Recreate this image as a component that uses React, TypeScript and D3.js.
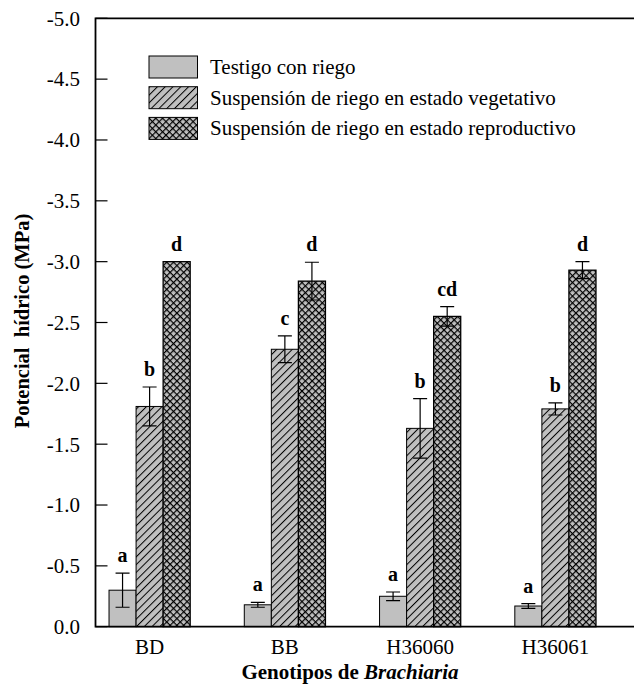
import * as d3 from "d3";
import React, { useEffect, useRef } from "react";

// genotypes on the x axis
const categories = ["BD", "BB", "H36060", "H36061"];

// treatments (legend order)
const seriesNames = [
  "Testigo con riego",
  "Suspensión de riego en estado vegetativo",
  "Suspensión de riego en estado reproductivo",
];

// water potential (MPa) per genotype
const testigo = [-0.3, -0.18, -0.25, -0.17];
const vegetativo = [-1.81, -2.28, -1.63, -1.79];
const reproductivo = [-3.0, -2.84, -2.55, -2.93];

// standard errors
const testigoErr = [0.14, 0.02, 0.035, 0.02];
const vegetativoErr = [0.16, 0.11, 0.245, 0.05];
const reproductivoErr = [0, 0.155, 0.08, 0.07];

// significance letters
const testigoLetters = ["a", "a", "a", "a"];
const vegetativoLetters = ["b", "c", "b", "b"];
const reproductivoLetters = ["d", "d", "cd", "d"];

const yTicks = [0, -0.5, -1.0, -1.5, -2.0, -2.5, -3.0, -3.5, -4.0, -4.5, -5.0];

const App: React.FC = () => {
  const ref = useRef<SVGSVGElement>(null);

  useEffect(() => {
    if (!ref.current) return;
    const svg = d3.select(ref.current);
    svg.selectAll("*").remove();

    const width = 634,
      height = 685;
    const left = 95.5,
      top = 18.3,
      bottom = 626.7;
    const font = "'Liberation Serif', 'Times New Roman', serif";
    const gray = "#c0c0c0";

    const values = [testigo, vegetativo, reproductivo];
    const errs = [testigoErr, vegetativoErr, reproductivoErr];
    const letters = [testigoLetters, vegetativoLetters, reproductivoLetters];

    // hyphen minus like the original
    const fmt = d3
      .formatLocale({
        decimal: ".",
        thousands: ",",
        grouping: [3],
        currency: ["", ""],
        minus: "-",
      })
      .format(".1f");

    const x0 = d3
      .scaleBand<string>()
      .domain(categories)
      .range([left, 609.5])
      .paddingInner(0.4)
      .paddingOuter(0.1);
    const x1 = d3
      .scaleBand<string>()
      .domain(seriesNames)
      .range([0, x0.bandwidth()]);
    const y = d3.scaleLinear().domain([0, -5]).range([bottom, top]);

    // patterns
    const defs = svg.append("defs");
    const hatch = defs
      .append("pattern")
      .attr("id", "hatch")
      .attr("patternUnits", "userSpaceOnUse")
      .attr("width", 5.5)
      .attr("height", 5.5)
      .attr("patternTransform", "rotate(45)");
    hatch.append("rect").attr("width", 5.5).attr("height", 5.5).attr("fill", gray);
    hatch
      .append("line")
      .attr("x1", 0.5)
      .attr("x2", 0.5)
      .attr("y1", 0)
      .attr("y2", 5.5)
      .attr("stroke", "#000")
      .attr("stroke-width", 1);

    const cross = defs
      .append("pattern")
      .attr("id", "cross")
      .attr("patternUnits", "userSpaceOnUse")
      .attr("width", 4.8)
      .attr("height", 4.8)
      .attr("patternTransform", "rotate(45)");
    cross.append("rect").attr("width", 4.8).attr("height", 4.8).attr("fill", gray);
    cross
      .append("path")
      .attr("d", "M0.6,0V4.8M0,0.6H4.8")
      .attr("stroke", "#000")
      .attr("stroke-width", 1.2);

    const fills = [gray, "url(#hatch)", "url(#cross)"];

    // bars
    const groups = svg
      .append("g")
      .selectAll("g")
      .data(categories)
      .join("g")
      .attr("transform", (d) => `translate(${x0(d)},0)`);

    seriesNames.forEach((s, si) => {
      groups
        .append("rect")
        .attr("x", x1(s)!)
        .attr("width", x1.bandwidth())
        .attr("y", (_, i) => y(values[si][i]))
        .attr("height", (_, i) => bottom - y(values[si][i]))
        .attr("fill", fills[si])
        .attr("stroke", "#000")
        .attr("stroke-width", si === 2 ? 1.3 : 1);
    });

    // error bars and letters
    seriesNames.forEach((s, si) => {
      const cx = x1(s)! + x1.bandwidth() / 2;
      groups.each(function (_, i) {
        const g = d3.select(this);
        const v = values[si][i];
        const e = errs[si][i];
        if (e > 0) {
          const yt = y(v - e),
            yb = y(v + e);
          g.append("path")
            .attr("d", `M${cx},${yt}V${yb}M${cx - 7},${yt}H${cx + 7}M${cx - 7},${yb}H${cx + 7}`)
            .attr("stroke", "#000")
            .attr("stroke-width", 1.2)
            .attr("fill", "none");
        }
        g.append("text")
          .attr("x", cx)
          .attr("y", y(v - e) - 11)
          .attr("text-anchor", "middle")
          .attr("font-family", font)
          .attr("font-weight", "bold")
          .attr("font-size", 20)
          .text(letters[si][i]);
      });
    });

    // axes lines
    svg
      .append("path")
      .attr("d", `M${width},${top}H${left}V${bottom}H${width}`)
      .attr("fill", "none")
      .attr("stroke", "#000")
      .attr("stroke-width", 1.8);

    // y ticks (inward)
    const yt = svg.append("g");
    yt.selectAll("line")
      .data(yTicks)
      .join("line")
      .attr("x1", left)
      .attr("x2", left + 12)
      .attr("y1", (d) => y(d))
      .attr("y2", (d) => y(d))
      .attr("stroke", "#000")
      .attr("stroke-width", 1.2);
    yt.selectAll("text")
      .data(yTicks)
      .join("text")
      .attr("x", 80)
      .attr("y", (d) => y(d))
      .attr("dy", "0.35em")
      .attr("text-anchor", "end")
      .attr("font-family", font)
      .attr("font-size", 21)
      .text((d) => fmt(d));

    // x category labels
    svg
      .append("g")
      .selectAll("text")
      .data(categories)
      .join("text")
      .attr("x", (d) => x0(d)! + x0.bandwidth() / 2)
      .attr("y", 654)
      .attr("text-anchor", "middle")
      .attr("font-family", font)
      .attr("font-size", 21)
      .text((d) => d);

    // axis titles
    const xt = svg
      .append("text")
      .attr("x", 350)
      .attr("y", 679)
      .attr("text-anchor", "middle")
      .attr("font-family", font)
      .attr("font-weight", "bold")
      .attr("font-size", 21);
    xt.append("tspan").text("Genotipos de ");
    xt.append("tspan").attr("font-style", "italic").text("Brachiaria");

    svg
      .append("text")
      .attr("transform", `translate(28.5,321) rotate(-90)`)
      .attr("text-anchor", "middle")
      .attr("font-family", font)
      .attr("font-weight", "bold")
      .attr("font-size", 20.5)
      .attr("xml:space", "preserve")
      .text("Potencial  hídrico (MPa)");

    // legend
    const legend = svg
      .append("g")
      .selectAll("g")
      .data(seriesNames)
      .join("g")
      .attr("transform", (_, i) => `translate(149,${56 + i * 30.7})`);
    legend
      .append("rect")
      .attr("width", 48.5)
      .attr("height", 22)
      .attr("fill", (_, i) => fills[i])
      .attr("stroke", "#000")
      .attr("stroke-width", 1);
    legend
      .append("text")
      .attr("x", 61)
      .attr("y", 18)
      .attr("font-family", font)
      .attr("font-size", 21)
      .text((d) => d);

    svg.attr("width", width).attr("height", height);
  }, []);

  return (
    <div style={{ position: "absolute", left: 0, top: 0 }}>
      <svg ref={ref} width={634} height={685} style={{ display: "block", background: "#fff" }} />
    </div>
  );
};

export default App;
